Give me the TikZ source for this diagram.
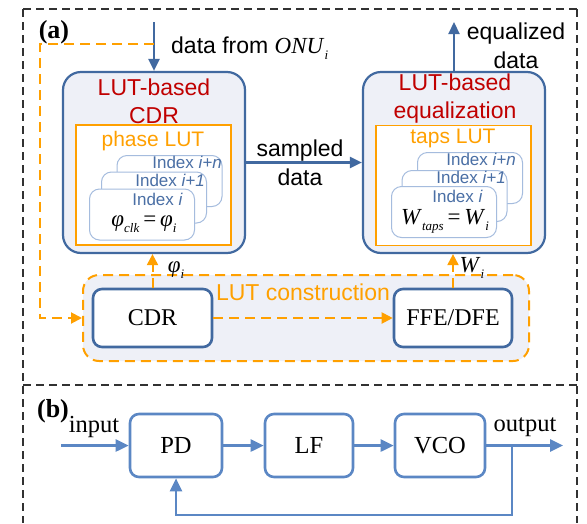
\documentclass[tikz,border=0pt]{standalone}
\usepackage{fontspec}
\setmainfont{Liberation Serif}
\setsansfont{Liberation Sans}
\usetikzlibrary{arrows.meta}
\definecolor{dblue}{RGB}{65,105,160}
\definecolor{lblue}{RGB}{91,135,196}
\definecolor{cardb}{RGB}{165,188,222}
\definecolor{idx}{RGB}{74,111,165}
\definecolor{lav}{RGB}{238,240,247}
\definecolor{lred}{RGB}{192,0,0}
\definecolor{orng}{RGB}{255,160,0}
\definecolor{frm}{RGB}{50,50,50}
\newcommand{\fsz}[2]{\fontsize{#1}{#2}\selectfont}
\newcommand{\lowsub}[1]{\raisebox{-6pt}{\fsz{13}{13}#1}}
\begin{document}
\begin{tikzpicture}[x=1pt,y=-1pt,
  bigbox/.style={draw=dblue, line width=2.2pt, fill=lav, rounded corners=18pt, minimum width=182pt, minimum height=181pt, inner sep=0pt},
  lutbox/.style={draw=orng, line width=1.6pt, fill=white, minimum width=155pt, minimum height=120pt, inner sep=0pt},
  card/.style={draw=cardb, line width=1pt, fill=white, rounded corners=10pt, inner sep=0pt, minimum width=105pt, minimum height=51pt},
  sbox/.style={draw=dblue, line width=2.6pt, fill=white, rounded corners=9pt, inner sep=0pt, minimum height=58pt, font=\fsz{24}{24}},
  pbox/.style={draw=lblue, line width=2.6pt, fill=white, rounded corners=9pt, inner sep=0pt, minimum height=63pt, font=\fsz{24.5}{24.5}},
  barr/.style={draw=dblue, line width=2.2pt, -{Triangle[length=12pt,width=11pt]}},
  parr/.style={draw=lblue, line width=2.6pt, -{Triangle[length=13pt,width=12pt]}},
  oarr/.style={draw=orng, line width=2pt, dash pattern=on 10pt off 6pt, -{Triangle[length=11pt,width=11pt]}},
  frame/.style={draw=frm, line width=1.3pt, dash pattern=on 8pt off 5pt},
  redtxt/.style={text=lred, font=\sffamily\fsz{23}{28}, align=center, inner sep=0pt},
  otxt/.style={text=orng, font=\sffamily\fsz{21}{21}, inner sep=0pt},
  idxtxt/.style={text=idx, font=\sffamily\fsz{17}{17}, inner sep=0pt, anchor=base east},
  btxt/.style={font=\sffamily\fsz{23}{29}, align=center, inner sep=0pt},
  stxt/.style={font=\fsz{24.5}{24.5}, inner sep=0pt},
  mtxt/.style={font=\fsz{23}{23}, inner sep=0pt, anchor=base}
]
\useasboundingbox (0,0) rectangle (587,523);
% frames
\draw[frame] (23,9) -- (577,9);
\draw[frame] (23,9) -- (23,523);
\draw[frame] (577,9) -- (577,523);
\draw[frame] (23,385) -- (577,385);
\node[font=\bfseries\fsz{26}{26}, inner sep=0pt] (la) at (54,32) {(a)};
\node[font=\bfseries\fsz{26}{26}, inner sep=0pt] (lb) at (53,411) {(b)};

% LUT construction box
\node[draw=orng, line width=2pt, dash pattern=on 10pt off 6pt, fill=lav, rounded corners=16pt, minimum width=446pt, minimum height=86pt, inner sep=0pt] (lutc) at (306,318) {};
\node[otxt, font=\sffamily\fsz{23}{23}] (lutct) at (303,292) {LUT construction};
\node[sbox, minimum width=119pt] (cdr) at (152.5,318) {CDR};
\node[sbox, minimum width=118pt] (ffe) at (453,318) {FFE/DFE};

% big boxes
\node[bigbox] (lcdr) at (154,162.5) {};
\node[bigbox] (reqz) at (454,162.5) {};
\node[redtxt] (lcdrt) at (154,101) {LUT-based\\CDR};
\node[redtxt] (reqzt) at (455,98.5) {LUT-based\\equalization};
\node[lutbox] (llut) at (153.5,185) {};
\node[lutbox] (rlut) at (453.5,185.5) {};
\node[otxt] (llutt) at (153,141) {phase LUT};
\node[otxt] (rlutt) at (453,138) {taps LUT};

% left cards
\node[card] (lc3) at (169.5,181) {};
\node[card] (lc2) at (154,197.5) {};
\node[card] (lc1) at (142,214.5) {};
\node[idxtxt] (lt3) at (222,168) {Index \textit{i+n}};
\node[idxtxt] (lt2) at (205,186) {Index \textit{i+1}};
\node[idxtxt] (lt1) at (183,205) {Index \textit{i}};
\node[mtxt] (lf) at (144,226) {\textit{φ}\lowsub{\textit{clk}}\,=\,\textit{φ}\lowsub{\textit{i}}};

% right cards
\node[card] (rc3) at (470,178) {};
\node[card] (rc2) at (454.5,196) {};
\node[card] (rc1) at (444,212) {};
\node[idxtxt] (rt3) at (516,165) {Index \textit{i+n}};
\node[idxtxt] (rt2) at (506,183) {Index \textit{i+1}};
\node[idxtxt] (rt1) at (483,202) {Index \textit{i}};
\node[mtxt] (rf) at (445,224) {\textit{W}\lowsub{\textit{taps}}\,=\,\textit{W}\lowsub{\textit{i}}};

% blue arrows (a)
\coordinate (dtop) at (154,22);
\coordinate (etop) at (454,22);
\draw[barr] (dtop) -- (lcdr);
\draw[barr] (reqz) -- (etop);
\draw[barr] (lcdr.east) -- (reqz.west);
\node[anchor=west, inner sep=0pt, font=\sffamily\fsz{23}{23}] (dfrom) at (171,48) {data from \rmfamily\textit{ONU}\lowsub{\textit{i}}};
\node[btxt] (eqd) at (516,45.5) {equalized\\data};
\node[btxt] (smp) at (300,163) {sampled\\data};

% orange arrows
\coordinate (fbs) at (154,44);
\draw[oarr] (fbs) -- (40,44) -- (40,318) -- (lutc.west);
\draw[oarr] (cdr) -- (ffe);
\draw[oarr] (cdr.north) -- (cdr.north |- lcdr.south);
\draw[oarr] (ffe.north) -- (ffe.north |- reqz.south);
\node[mtxt] (phii) at (176,272) {\textit{φ}\lowsub{\textit{i}}};
\node[mtxt] (wi) at (472,272) {\textit{W}\lowsub{\textit{i}}};

% (b) PLL
\node[pbox, minimum width=92pt] (pd) at (176,445.5) {PD};
\node[pbox, minimum width=88pt] (lf) at (309,445.5) {LF};
\node[pbox, minimum width=90pt] (vco) at (440,445.5) {VCO};
\coordinate (inp) at (61,445.5);
\coordinate (outp) at (563,445.5);
\coordinate (br) at (512,445.5);
\draw[parr] (inp) -- (pd);
\draw[parr] (pd) -- (lf);
\draw[parr] (lf) -- (vco);
\draw[parr] (vco) -- (outp);
\draw[parr] (br) -- (512,515) -| (pd.south);
\node[stxt] (inpt) at (94,427) {input};
\node[stxt] (outpt) at (525,427) {output};
\end{tikzpicture}
\end{document}
